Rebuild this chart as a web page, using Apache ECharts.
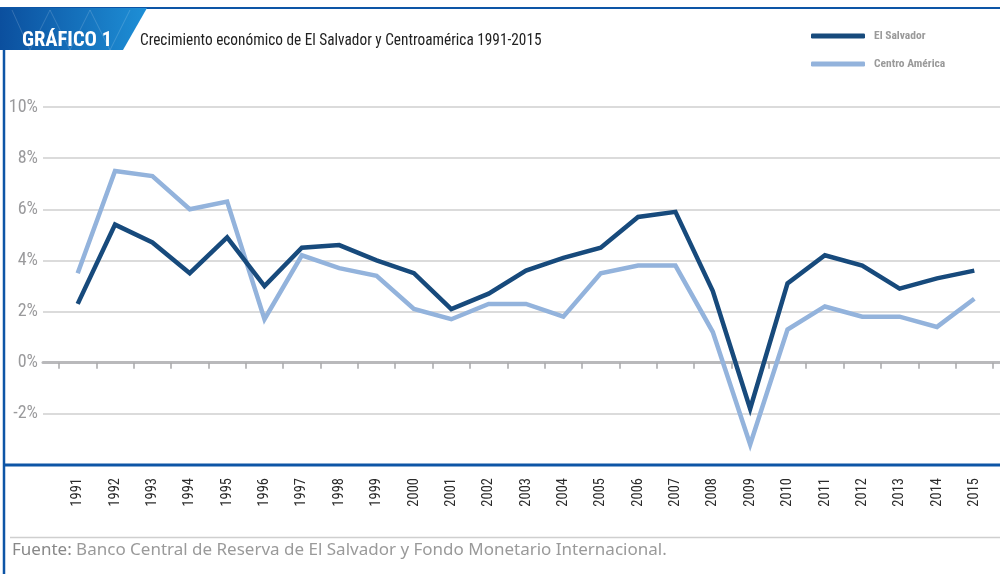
<!DOCTYPE html>
<html>
<head>
<meta charset="utf-8">
<script src="https://cdn.jsdelivr.net/npm/echarts@6/dist/echarts.min.js"></script>
<style>
  html, body { margin: 0; padding: 0; background: #fff; }
  #chart { width: 1000px; height: 574px; }
</style>
</head>
<body>
<div id="chart"></div>
<script>
// years on the category axis
const years = ['1991', '1992', '1993', '1994', '1995', '1996', '1997', '1998', '1999', '2000',
  '2001', '2002', '2003', '2004', '2005', '2006', '2007', '2008', '2009', '2010',
  '2011', '2012', '2013', '2014', '2015'];

// crecimiento (%)
const elSalvador = [2.3, 5.4, 4.7, 3.5, 4.9, 3.0, 4.5, 4.6, 4.0, 3.5,
  2.1, 2.7, 3.6, 4.1, 4.5, 5.7, 5.9, 2.8, -1.8, 3.1,
  4.2, 3.8, 2.9, 3.3, 3.6];
const centroAmerica = [3.5, 7.5, 7.3, 6.0, 6.3, 1.7, 4.2, 3.7, 3.4, 2.1,
  1.7, 2.3, 2.3, 1.8, 3.5, 3.8, 3.8, 1.2, -3.2, 1.3,
  2.2, 1.8, 1.8, 1.4, 2.5];

const yTicks = { min: -4, max: 10, step: 2 };

const DARK = '#174a7c';
const LIGHT = '#93b3dc';
const BORDER = '#0d55a6';
const NARROW = '"Roboto Condensed", "DejaVu Sans Condensed", sans-serif';

const GRID_TOP = 107;
const GRID_BOTTOM = 109;

const chart = echarts.init(document.getElementById('chart'));

const option = {
  animation: false,
  legend: {
    orient: 'vertical',
    left: 806,
    top: 25,
    itemWidth: 54,
    itemHeight: 5,
    itemGap: 16,
    icon: 'roundRect',
    textStyle: { fontFamily: NARROW, fontSize: 11.5, fontWeight: 'bold', color: '#9a9a9a', padding: [0, 0, 0, 4] },
    data: ['El Salvador', 'Centro América']
  },
  grid: [
    // wide grid: gridlines + 0% line
    { left: 43, right: 0, top: GRID_TOP, bottom: GRID_BOTTOM },
    // data grid
    { left: 59, right: 7, top: GRID_TOP, bottom: GRID_BOTTOM }
  ],
  xAxis: [
    {
      gridIndex: 0,
      type: 'value',
      min: 0, max: 1,
      axisLine: { show: true, onZero: true, lineStyle: { color: '#b9b9bb', width: 3 } },
      axisTick: { show: false },
      axisLabel: { show: false },
      splitLine: { show: false }
    },
    {
      gridIndex: 1,
      type: 'category',
      data: years,
      boundaryGap: true,
      axisLine: { show: false, onZero: true },
      axisTick: { show: true, inside: false, length: 6, lineStyle: { color: '#a8a8aa', width: 1.5 } },
      axisLabel: { show: false },
      splitLine: { show: false }
    },
    {
      gridIndex: 1,
      type: 'category',
      data: years,
      position: 'bottom',
      boundaryGap: true,
      axisLine: { show: false, onZero: false },
      axisTick: { show: false },
      axisLabel: { rotate: 90, margin: 13, fontFamily: NARROW, fontSize: 14.5, color: '#2b2b2b', interval: 0 },
      splitLine: { show: false }
    }
  ],
  yAxis: [
    {
      gridIndex: 0,
      type: 'value',
      min: yTicks.min, max: yTicks.max, interval: yTicks.step,
      axisLine: { show: false },
      axisTick: { show: false },
      axisLabel: {
        margin: 5,
        fontFamily: NARROW, fontSize: 18, color: '#9a9a9c',
        formatter: v => (v === yTicks.min ? '' : v + '%')
      },
      splitLine: { lineStyle: { color: '#cfcfcf', width: 1.5 } }
    },
    {
      gridIndex: 1,
      type: 'value',
      min: yTicks.min, max: yTicks.max, interval: yTicks.step,
      show: false,
      splitLine: { show: false }
    }
  ],
  series: [
    {
      name: 'El Salvador',
      type: 'line',
      xAxisIndex: 1,
      yAxisIndex: 1,
      data: elSalvador,
      symbol: 'none',
      z: 4,
      itemStyle: { color: DARK },
      lineStyle: { color: DARK, width: 4.5, join: 'miter' }
    },
    {
      name: 'Centro América',
      type: 'line',
      xAxisIndex: 1,
      yAxisIndex: 1,
      data: centroAmerica,
      symbol: 'none',
      z: 3,
      itemStyle: { color: LIGHT },
      lineStyle: { color: LIGHT, width: 4.5, join: 'miter' }
    }
  ],
  graphic: [
    // top border
    { type: 'line', z: 100, shape: { x1: 0, y1: 8, x2: 1000, y2: 8 }, style: { stroke: BORDER, lineWidth: 2 } },
    // left border
    { type: 'line', z: 100, shape: { x1: 4, y1: 8, x2: 4, y2: 574 }, style: { stroke: BORDER, lineWidth: 2.5 } },
    // header tab
    {
      type: 'polygon', z: 100,
      shape: { points: [[0, 8], [147, 8], [123, 50], [0, 50]] },
      style: {
        fill: new echarts.graphic.LinearGradient(0, 0, 1, 0, [
          { offset: 0, color: '#0b4f9e' },
          { offset: 1, color: '#1e8fd6' }
        ])
      }
    },
    {
      type: 'polyline', z: 101,
      shape: { points: [[12, 10], [30, 50], [50, 10], [70, 50], [90, 10], [110, 50], [130, 10]] },
      style: { stroke: 'rgba(255,255,255,0.16)', lineWidth: 1, fill: null }
    },
    {
      type: 'text', z: 102, left: 22, top: 30,
      style: { text: 'GRÁFICO 1', fill: '#ffffff', font: 'bold 20.5px ' + NARROW }
    },
    {
      type: 'text', z: 100, x: 140, y: 32, scaleX: 0.9,
      style: { text: 'Crecimiento económico de El Salvador y Centroamérica 1991-2015', fill: '#222222', font: '17px ' + NARROW }
    },
    // bottom blue rule
    { type: 'line', z: 100, shape: { x1: 4, y1: 465, x2: 1000, y2: 465 }, style: { stroke: BORDER, lineWidth: 3 } },
    // footer rule + source
    { type: 'line', z: 100, shape: { x1: 10, y1: 537.5, x2: 1000, y2: 537.5 }, style: { stroke: '#cfcfcf', lineWidth: 1.5 } },
    {
      type: 'text', z: 100, left: 12, top: 542,
      style: {
        text: '{b|Fuente:} Banco Central de Reserva de El Salvador y Fondo Monetario Internacional.',
        fill: '#9a9a9a', font: '17px "Noto Sans", sans-serif',
        rich: { b: { fill: '#888888', font: '17px "Noto Sans", sans-serif' } }
      }
    }
  ]
};

chart.setOption(option);
</script>
</body>
</html>
